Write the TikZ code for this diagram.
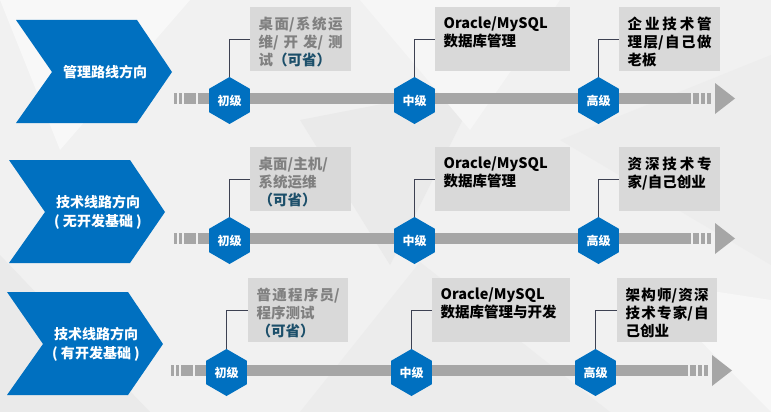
\documentclass[tikz,border=0pt]{standalone}
\usepackage{fontspec}
\setmainfont{Noto Sans CJK SC}
\usetikzlibrary{shapes.geometric,positioning,calc}
\definecolor{Blue}{HTML}{0070C0}
\definecolor{Bar}{HTML}{A6A6A6}
\definecolor{Card}{HTML}{D9D9D9}
\definecolor{Mute}{HTML}{808080}
\definecolor{Teal}{HTML}{1C4F6A}
\definecolor{Ink}{HTML}{3D4152}
\definecolor{Paper}{HTML}{F1F1F1}
\XeTeXlinebreaklocale "zh"
\XeTeXlinebreakskip=0pt plus 6pt

\tikzset{
  hexa/.style={regular polygon,regular polygon sides=6,shape border rotate=30,fill=Blue,
    minimum size=47pt,inner sep=0pt,text=white,font=\bfseries\fontsize{12}{13}\selectfont},
  dirtxt/.style={text=white,align=center,font=\bfseries\fontsize{14}{19}\selectfont},
  card/.style={fill=Card,anchor=north west,inner xsep=8.5pt,inner ysep=10pt,
    font=\bfseries\fontsize{14.5}{18}\selectfont}
}

\begin{document}
\begin{tikzpicture}[x=1pt,y=-1pt]
  \useasboundingbox (0,0) rectangle (771,412);
  \fill[Paper] (0,0) rectangle (771,412);
  % faint facets of the backdrop
  \foreach \p/\c in {{(0,0)--(190,0)--(60,150)}/F8F8F8,{(300,120)--(480,85)--(390,265)}/EAEAEA,
      {(560,140)--(771,55)--(771,265)}/EDEDED,{(0,255)--(150,412)--(0,412)}/EAEAEA,
      {(420,262)--(610,412)--(300,412)}/ECECEC,{(640,280)--(771,300)--(771,412)}/F7F7F7,
      {(360,0)--(560,0)--(470,130)}/F6F6F6}{
    \definecolor{facet}{HTML}{\c}
    \fill[facet] \p -- cycle;
  }

  \foreach \r/\dy/\dx/\cx/\dir in {1/0/0/16/{管理路线方向},2/140/0/9/{技术线路方向\\( 无开发基础 )},
      3/272/-3/10/{技术线路方向\\( 有开发基础 )}}{
    \begin{scope}[shift={(\dx,\dy)}]
      % direction chevron
      \fill[Blue] (\cx,20) -- ++(121,0) -- ++(35,52) -- ++(-35,51) -- ++(-121,0) -- ++(36,-51) -- cycle;
      \node[dirtxt] (d\r) at (\cx+89,72) {\dir};
      % striped arrow
      \foreach \a/\b in {174/177,179/182,184/196,198/691,693/699,701/705,707/711}
        \fill[Bar] (\a,93) rectangle (\b,104);
      \fill[Bar] (715,83) -- (735,98.5) -- (715,114) -- cycle;
      % levels
      \foreach \k/\x/\lv in {1/229.5/初级,2/414.5/中级,3/598.5/高级}
        \node[hexa] (h\r\k) at (\x,100.5) {\lv};
    \end{scope}
  }

  % cards and their leaders
  \foreach \r/\k/\x/\y/\w/\col/\txt in {
      1/1/250/7/101/Mute/{桌面/系统运\linebreak 维/开发/测\linebreak 试{\color{Teal}（可省）}},
      1/2/435/7/135/black/{Oracle/MySQL\newline 数据库管理},
      1/3/619/7/101/black/{企业技术管\linebreak 理层/自己做\linebreak 老板},
      2/1/250/147/101/Mute/{桌面/主机/\newline 系统运维\newline {\color{Teal}（可省）}},
      2/2/435/147/135/black/{Oracle/MySQL\newline 数据库管理},
      2/3/619/147/101/black/{资深技术专\linebreak 家/自己创业},
      3/1/248/278/100/Mute/{普通程序员/\linebreak 程序测试\newline {\color{Teal}（可省）}},
      3/2/432/278/138/black/{Oracle/MySQL\newline 数据库管理与开发},
      3/3/617/278/100/black/{架构师/资深\linebreak 技术专家/自\linebreak 己创业}}{
    \node[card,text=\col] (b\r\k) at (\x,\y) {\parbox[t][44pt][t]{\dimexpr\w pt-17pt\relax}{\txt}};
    \draw[Ink,thick] (h\r\k.north) |- (b\r\k.west);
  }
\end{tikzpicture}
\end{document}
